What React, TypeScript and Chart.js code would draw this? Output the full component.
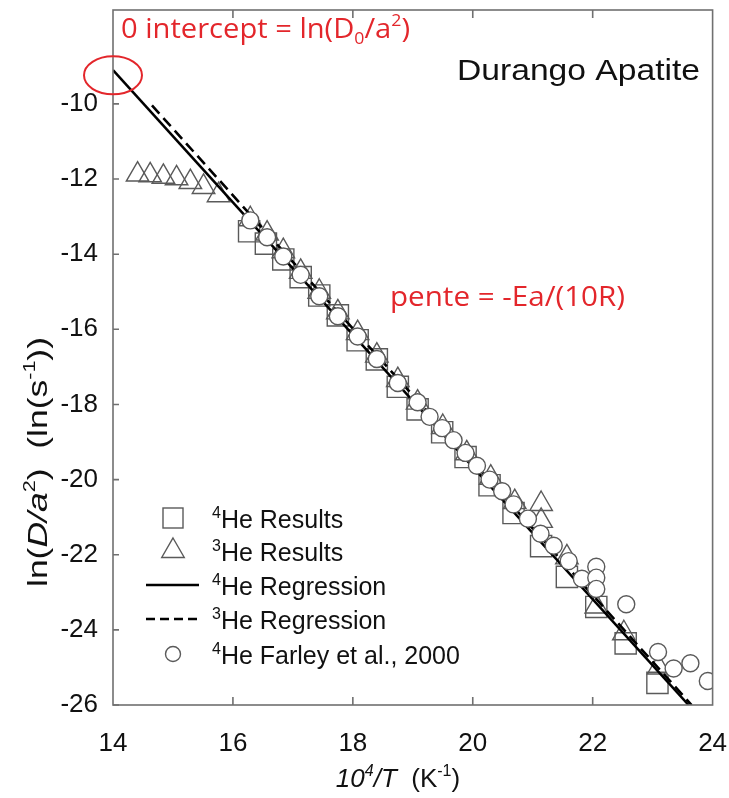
import React, { useEffect, useRef } from 'react';
import { Chart, registerables } from 'chart.js';
Chart.register(...registerables);

// ---- data ----
const xTicks = [14, 16, 18, 20, 22, 24];
const yTicks = [-26, -24, -22, -20, -18, -16, -14, -12, -10];

const he4Results = [
  { x: 16.27, y: -13.39 }, { x: 16.55, y: -13.72 }, { x: 16.84, y: -14.14 }, { x: 17.13, y: -14.61 },
  { x: 17.44, y: -15.1 }, { x: 17.75, y: -15.63 }, { x: 18.08, y: -16.29 }, { x: 18.4, y: -16.8 },
  { x: 18.75, y: -17.53 }, { x: 19.08, y: -18.13 }, { x: 19.49, y: -18.74 }, { x: 19.88, y: -19.4 },
  { x: 20.28, y: -20.15 }, { x: 20.68, y: -20.89 }, { x: 21.14, y: -21.77 }, { x: 21.57, y: -22.59 },
  { x: 22.06, y: -23.39 }, { x: 22.55, y: -24.36 }, { x: 23.08, y: -25.41 },
];

const he3Results = [
  { x: 14.41, y: -11.88 }, { x: 14.62, y: -11.9 }, { x: 14.84, y: -11.94 }, { x: 15.06, y: -11.98 },
  { x: 15.29, y: -12.08 }, { x: 15.51, y: -12.21 }, { x: 15.76, y: -12.43 },
  { x: 16.29, y: -13.07 }, { x: 16.57, y: -13.45 }, { x: 16.84, y: -13.92 }, { x: 17.13, y: -14.47 },
  { x: 17.44, y: -15.0 }, { x: 17.75, y: -15.55 }, { x: 18.08, y: -16.1 }, { x: 18.4, y: -16.7 },
  { x: 18.75, y: -17.35 }, { x: 19.08, y: -17.95 }, { x: 19.5, y: -18.6 }, { x: 19.9, y: -19.3 },
  { x: 20.3, y: -19.95 }, { x: 20.7, y: -20.6 }, { x: 21.14, y: -20.65 }, { x: 21.14, y: -21.1 },
  { x: 21.57, y: -22.07 }, { x: 22.06, y: -23.38 }, { x: 22.52, y: -24.09 }, { x: 23.1, y: -25.0 },
];

const farley2000 = [
  { x: 16.29, y: -13.1 }, { x: 16.57, y: -13.55 }, { x: 16.84, y: -14.06 }, { x: 17.13, y: -14.55 },
  { x: 17.44, y: -15.12 }, { x: 17.75, y: -15.65 }, { x: 18.08, y: -16.19 }, { x: 18.4, y: -16.79 },
  { x: 18.75, y: -17.43 }, { x: 19.08, y: -17.94 }, { x: 19.28, y: -18.33 }, { x: 19.49, y: -18.63 },
  { x: 19.68, y: -18.95 }, { x: 19.88, y: -19.29 }, { x: 20.07, y: -19.63 }, { x: 20.28, y: -20.0 },
  { x: 20.49, y: -20.31 }, { x: 20.68, y: -20.66 }, { x: 20.92, y: -21.04 }, { x: 21.13, y: -21.44 },
  { x: 21.35, y: -21.76 }, { x: 21.6, y: -22.17 }, { x: 21.82, y: -22.64 }, { x: 22.06, y: -22.32 },
  { x: 22.06, y: -22.61 }, { x: 22.06, y: -22.91 }, { x: 22.56, y: -23.32 }, { x: 23.09, y: -24.59 },
  { x: 23.35, y: -25.03 }, { x: 23.63, y: -24.89 }, { x: 23.92, y: -25.36 },
];

const he4Regression = [{ x: 14, y: -9.1 }, { x: 23.6, y: -26 }];
const he3Regression = [{ x: 14.65, y: -10.04 }, { x: 23.65, y: -26.0 }];

const interceptPoint = { x: 14, y: -9.24 };

// ---- drawing helpers ----
const SANS = '"Liberation Sans", Arial, sans-serif';
const RED_FONT = '"Open Sans", "Noto Sans", sans-serif';
const RED = '#e3262b';
const MARK = '#5a5a5a';
const PLOT_TOP = 10;

type Seg = { t: string; it?: boolean; sup?: boolean; sub?: boolean };

function segFont(s: Seg, size: number, fam: string) {
  const sz = s.sup || s.sub ? Math.round(size * 0.62) : size;
  return `${s.it ? 'italic ' : ''}${sz}px ${fam}`;
}
function richWidth(ctx: CanvasRenderingContext2D, segs: Seg[], size: number, fam: string) {
  let w = 0;
  for (const s of segs) {
    ctx.font = segFont(s, size, fam);
    w += ctx.measureText(s.t).width;
  }
  return w;
}
function drawRich(
  ctx: CanvasRenderingContext2D, segs: Seg[], x: number, y: number, size: number, fam: string,
  color: string, align: 'left' | 'center' | 'right', targetWidth?: number,
) {
  const w = richWidth(ctx, segs, size, fam);
  const sx = targetWidth ? targetWidth / w : 1;
  ctx.save();
  ctx.translate(x, y);
  ctx.scale(sx, 1);
  let cx = align === 'left' ? 0 : align === 'center' ? -w / 2 : -w;
  ctx.fillStyle = color;
  ctx.textBaseline = 'alphabetic';
  ctx.textAlign = 'left';
  for (const s of segs) {
    ctx.font = segFont(s, size, fam);
    const dy = s.sup ? -size * 0.42 : s.sub ? size * 0.22 : 0;
    ctx.fillText(s.t, cx, dy);
    cx += ctx.measureText(s.t).width;
  }
  ctx.restore();
}

const zeroPad = () => ({ left: 0, top: 0, right: 0, bottom: 0 });

// pin the top of the plot area
const areaPlugin = {
  id: 'pinArea',
  afterLayout(chart: any) {
    try {
      const area = chart.chartArea;
      const ys = chart.scales.y;
      if (!area || !ys || area.top <= PLOT_TOP) return;
      area.top = PLOT_TOP;
      area.height = area.bottom - area.top;
      if ('h' in area) area.h = area.height;
      ys.top = PLOT_TOP;
      ys.height = ys.bottom - ys.top;
      ys.configure();
    } catch (e) {
      /* keep the default layout */
    }
  },
};

const decorPlugin = {
  id: 'decor',
  afterDraw(chart: any) {
    const ctx: CanvasRenderingContext2D = chart.ctx;
    const { left, right, top, bottom } = chart.chartArea;
    const xs = chart.scales.x;
    const ys = chart.scales.y;
    ctx.save();
    // frame
    ctx.strokeStyle = '#707070';
    ctx.lineWidth = 1.6;
    ctx.strokeRect(left, top, right - left, bottom - top);
    // inward ticks
    ctx.beginPath();
    for (const v of yTicks) {
      const py = ys.getPixelForValue(v);
      ctx.moveTo(left, py);
      ctx.lineTo(left + 6, py);
    }
    for (const v of xTicks.slice(1, -1)) {
      const px = xs.getPixelForValue(v);
      ctx.moveTo(px, bottom);
      ctx.lineTo(px, bottom - 8);
      ctx.moveTo(px, top);
      ctx.lineTo(px, top + 8);
    }
    ctx.stroke();

    // red ellipse around the intercept
    ctx.strokeStyle = RED;
    ctx.lineWidth = 2;
    ctx.beginPath();
    ctx.ellipse(xs.getPixelForValue(interceptPoint.x), ys.getPixelForValue(interceptPoint.y), 29, 19, 0, 0, Math.PI * 2);
    ctx.stroke();

    // annotations
    drawRich(ctx, [{ t: '0 intercept = ln(D' }, { t: '0', sub: true }, { t: '/a' }, { t: '2', sup: true }, { t: ')' }],
      121, 38, 28, RED_FONT, RED, 'left', 289);
    drawRich(ctx, [{ t: 'pente = -Ea/(10R)' }], 390, 306, 28, RED_FONT, RED, 'left', 235);
    drawRich(ctx, [{ t: 'Durango Apatite' }], 457, 80, 30, SANS, '#111', 'left', 243);

    // legend
    const lx = 173;
    const rows = [518, 551, 585, 619, 654];
    ctx.strokeStyle = MARK;
    ctx.lineWidth = 1.4;
    ctx.strokeRect(lx - 10, rows[0] - 10, 20, 20);
    ctx.beginPath();
    const tr = 13;
    ctx.moveTo(lx, rows[1] - tr);
    ctx.lineTo(lx + tr * Math.sin((2 * Math.PI) / 3), rows[1] + tr / 2);
    ctx.lineTo(lx - tr * Math.sin((2 * Math.PI) / 3), rows[1] + tr / 2);
    ctx.closePath();
    ctx.stroke();
    ctx.strokeStyle = '#000';
    ctx.lineWidth = 2.5;
    ctx.beginPath();
    ctx.moveTo(146, rows[2]);
    ctx.lineTo(199, rows[2]);
    ctx.stroke();
    ctx.setLineDash([9, 5]);
    ctx.beginPath();
    ctx.moveTo(146, rows[3]);
    ctx.lineTo(199, rows[3]);
    ctx.stroke();
    ctx.setLineDash([]);
    ctx.strokeStyle = MARK;
    ctx.lineWidth = 1.4;
    ctx.beginPath();
    ctx.arc(lx, rows[4], 7.5, 0, Math.PI * 2);
    ctx.stroke();

    const lsize = 25;
    const labels: Seg[][] = [
      [{ t: '4', sup: true }, { t: 'He Results' }],
      [{ t: '3', sup: true }, { t: 'He Results' }],
      [{ t: '4', sup: true }, { t: 'He Regression' }],
      [{ t: '3', sup: true }, { t: 'He Regression' }],
      [{ t: '4', sup: true }, { t: 'He Farley et al., 2000' }],
    ];
    labels.forEach((segs, i) => drawRich(ctx, segs, 212, rows[i] + 10, lsize, SANS, '#111', 'left'));

    // axis titles
    drawRich(ctx, [{ t: '10', it: true }, { t: '4', it: true, sup: true }, { t: '/T', it: true }, { t: '  (K' }, { t: '-1', sup: true }, { t: ')' }],
      398, 787, 26, SANS, '#111', 'center');
    ctx.save();
    ctx.translate(47, 462);
    ctx.rotate(-Math.PI / 2);
    drawRich(ctx, [{ t: 'ln(' }, { t: 'D/a', it: true }, { t: '2', sup: true }, { t: ')  (ln(s' }, { t: '-1', sup: true }, { t: '))' }],
      0, 0, 28, SANS, '#111', 'center', 250);
    ctx.restore();

    ctx.restore();
  },
};

export default function App() {
  const ref = useRef<HTMLCanvasElement | null>(null);
  useEffect(() => {
    if (!ref.current) return;
    const chart = new Chart(ref.current, {
      type: 'scatter',
      data: {
        datasets: [
          {
            label: '4He Farley et al., 2000', data: farley2000, order: 0,
            pointStyle: 'circle', pointRadius: 8.5, borderColor: MARK, backgroundColor: '#ffffff', borderWidth: 1.4,
          },
          {
            label: '4He Regression', type: 'line', data: he4Regression, order: 1, showLine: true,
            borderColor: '#000', borderWidth: 2.6, pointRadius: 0, fill: false,
          },
          {
            label: '3He Regression', type: 'line', data: he3Regression, order: 1, showLine: true,
            borderColor: '#000', borderWidth: 2.6, borderDash: [11, 6], pointRadius: 0, fill: false,
          },
          {
            label: '3He Results', data: he3Results, order: 2,
            pointStyle: 'triangle', pointRadius: 13, borderColor: MARK, backgroundColor: 'rgba(0,0,0,0)', borderWidth: 1.4,
          },
          {
            label: '4He Results', data: he4Results, order: 3,
            pointStyle: 'rect', pointRadius: 15, borderColor: MARK, backgroundColor: 'rgba(0,0,0,0)', borderWidth: 1.4,
          },
        ] as any,
      },
      options: {
        responsive: false,
        animation: false,
        devicePixelRatio: 1,
        layout: { padding: { top: 10, right: 16, left: 0, bottom: 0 } },
        plugins: { legend: { display: false }, tooltip: { enabled: false } },
        scales: {
          x: {
            type: 'linear', min: 14, max: 24,
            afterFit: (s: any) => { s.height = 93; s.paddingLeft = 0; s.paddingRight = 0; s.paddingTop = 0; s.paddingBottom = 0; s.getPadding = zeroPad; },
            afterBuildTicks: (s: any) => { s.ticks = xTicks.map((v) => ({ value: v })); },
            grid: { display: false, drawTicks: false },
            border: { display: false },
            ticks: { font: { family: SANS, size: 26 }, color: '#111', padding: 23 },
          },
          y: {
            type: 'linear', min: -26, max: -7.5,
            afterFit: (s: any) => { s.width = 113; s.paddingLeft = 0; s.paddingRight = 0; s.paddingTop = 0; s.paddingBottom = 0; s.getPadding = zeroPad; },
            afterBuildTicks: (s: any) => { s.ticks = yTicks.map((v) => ({ value: v })); },
            grid: { display: false, drawTicks: false },
            border: { display: false },
            ticks: { font: { family: SANS, size: 26 }, color: '#111', padding: 15 },
          },
        },
      } as any,
      plugins: [areaPlugin, decorPlugin],
    });
    return () => chart.destroy();
  }, []);
  return (
    <div style={{ position: 'absolute', left: 0, top: 0, width: 729, height: 798, background: '#fff' }}>
      <canvas ref={ref} width={729} height={798} />
    </div>
  );
}
